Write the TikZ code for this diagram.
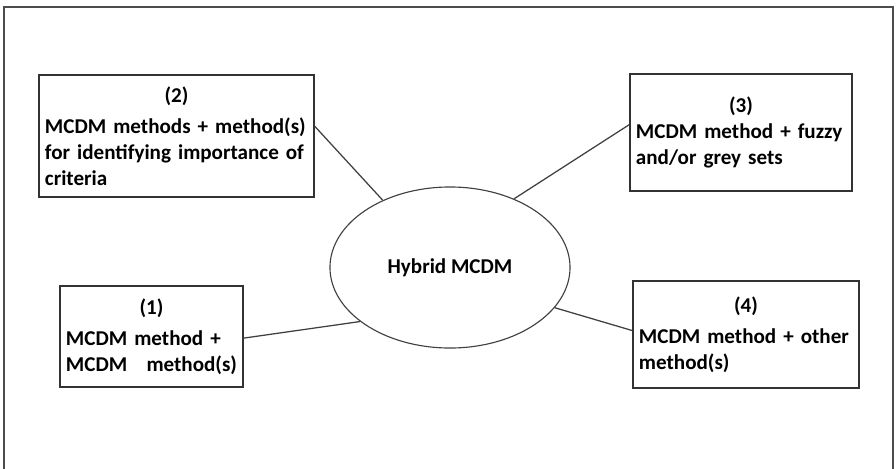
\documentclass[tikz,border=0pt]{standalone}
\usepackage{fontspec}
\setmainfont{Carlito}
\usetikzlibrary{shapes.geometric}
\begin{document}
\begin{tikzpicture}[x=0.025cm,y=-0.025cm,
                every node/.style={font=\fontsize{15}{18.5}\selectfont\bfseries},
                box/.style={draw=black!80,line width=1.1pt,rectangle,inner xsep=0.15cm,inner ysep=0pt},
                link/.style={draw=black!75,line width=0.9pt}]
                \useasboundingbox (0,0) rectangle (896,468);
                \draw[black!70,line width=1pt] (4,480) -- (4,7) -- (893,7) -- (893,480);
                \node[ellipse,draw=black!75,line width=0.8pt,minimum width=6cm,minimum height=4.025cm,inner sep=0pt] (hyb) at (450,267.5) {Hybrid MCDM};
                \node[box,text width=6.575cm,minimum height=3.05cm] (m2) at (176.5,136) {\centering (2)\par\vspace{0.12cm}\raggedright MCDM methods + method(s)\\for identifying importance of\\criteria};
                \node[box,text width=5.25cm,minimum height=2.925cm] (m3) at (741,132.5) {\centering (3)\par\raggedright MCDM method + fuzzy\\and/or grey sets};
                \node[box,text width=4.275cm,minimum height=2.525cm] (m1) at (151.5,336.5) {\centering (1)\par\vspace{0.12cm}\raggedright MCDM method +\\\makebox[\linewidth][s]{MCDM\hfill method(s)}};
                \node[box,text width=5.35cm,minimum height=2.675cm] (m4) at (746,334.5) {\centering (4)\par\vspace{0.12cm}\raggedright MCDM method + other\\method(s)};
                \draw[link] (m2.4) -- (hyb.135);
                \draw[link] (m3.176) -- (hyb.47);
                \draw[link] (m1.-1) -- (hyb.211);
                \draw[link] (m4.178) -- (hyb.339);
            \end{tikzpicture}
\end{document}
